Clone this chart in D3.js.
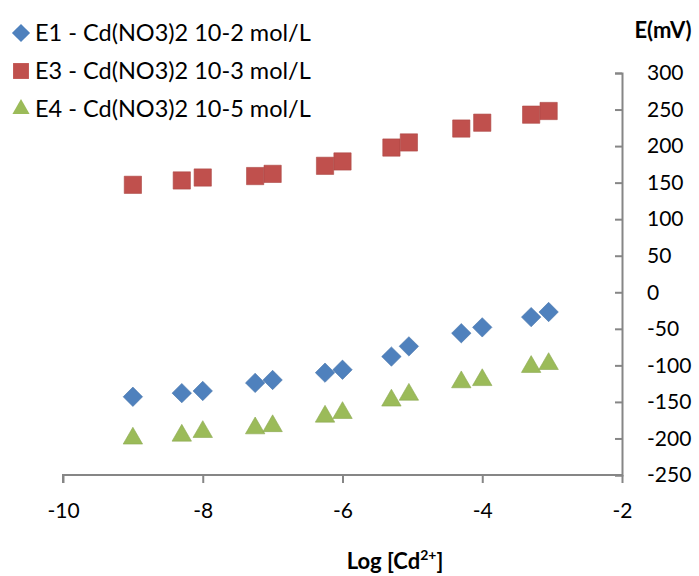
<!DOCTYPE html>
<html>
<head>
<meta charset="utf-8">
<script src="https://cdn.jsdelivr.net/npm/d3@7"></script>
<style>
	body { margin: 0; background: #fff; }
	text { font-family: Lato, "Open Sans", sans-serif; fill: #000; }
</style>
</head>
<body>
<svg id="chart" width="699" height="576"></svg>
<script>
// log [Cd2+] for each measurement
const logConc = [-9, -8.3, -8, -7.25, -7, -6.25, -6, -5.3, -5.05, -4.3, -4, -3.3, -3.05]

// potentials, mV
const e1 = [-143, -138, -135, -124, -120, -110, -106, -88, -74, -56, -48, -34, -27]
const e3 = [147, 153, 157, 159, 162, 173, 179, 198, 205, 224, 232, 243, 248]
const e4 = [-200, -196, -191, -186, -183, -170, -165, -148, -140, -123, -120, -102, -98]

const seriesNames = [
	"E1 - Cd(NO3)2 10-2 mol/L",
	"E3 - Cd(NO3)2 10-3 mol/L",
	"E4 - Cd(NO3)2 10-5 mol/L",
]
const xTicks = [-10, -8, -6, -4, -2]
const yTicks = [300, 250, 200, 150, 100, 50, 0, -50, -100, -150, -200, -250]

const series = [
	{ name: seriesNames[0], values: e1, colour: "#4F81BD", symbol: d3.symbolDiamond2 },
	{ name: seriesNames[1], values: e3, colour: "#C0504D", symbol: d3.symbolSquare2 },
	{ name: seriesNames[2], values: e4, colour: "#9BBB59", symbol: d3.symbolTriangle2 },
]

const svg = d3.select("#chart")

const x = d3.scaleLinear().domain([-10, -2]).range([63, 622])
const y = d3.scaleLinear().domain([-250, 300]).range([475, 73])

const axisColour = "#868686"
const plain = d => String(d)   // hyphen-minus, as in the original

// x axis along the bottom (at -250)
const xAxis = svg.append("g")
	.attr("transform", `translate(0, ${y(-250)})`)
	.call(d3.axisBottom(x).tickValues(xTicks).tickSize(8).tickPadding(20).tickFormat(plain))
xAxis.select(".domain").attr("d", `M${x(-10)},8V0H${x(-2)}V0`)

// y axis on the right (at -2), ticks pointing left, labels right
const yAxis = svg.append("g")
	.attr("transform", `translate(${x(-2)}, 0)`)
	.call(d3.axisLeft(y).tickValues(yTicks).tickSize(7).tickFormat(plain))
yAxis.selectAll(".tick text")
	.attr("x", 25)
	.attr("text-anchor", "start")

svg.selectAll(".domain, .tick line")
	.attr("stroke", axisColour)
	.attr("stroke-width", 2)
svg.selectAll(".tick text")
	.attr("font-family", "Lato, 'Open Sans', sans-serif")
	.attr("font-size", 21)
	.attr("fill", "#000")

// axis titles
svg.append("text")
	.attr("x", 663)
	.attr("y", 38)
	.attr("text-anchor", "middle")
	.attr("font-weight", "bold")
	.attr("font-size", 22)
	.text("E(mV)")

let xTitle = svg.append("text")
	.attr("x", 395)
	.attr("y", 569)
	.attr("text-anchor", "middle")
	.attr("font-weight", "bold")
	.attr("font-size", 22)
xTitle.append("tspan").text("Log [Cd")
xTitle.append("tspan").attr("font-size", 14).attr("dy", -9).text("2+")
xTitle.append("tspan").attr("dy", 9).text("]")

// markers
const symbolSize = { 0: 240, 1: 380, 2: 270 }
series.forEach((s, i) => {
	svg.append("g")
		.selectAll("path")
		.data(s.values.map((v, j) => ({ x: logConc[j], y: v })))
		.join("path")
		.attr("transform", d => `translate(${x(d.x)}, ${y(d.y)})`)
		.attr("d", d3.symbol().type(s.symbol).size(symbolSize[i]))
		.attr("fill", s.colour)
		.attr("stroke", d3.color(s.colour).darker(0.3))
		.attr("stroke-width", 0.6)
})

// legend
const legend = svg.append("g")
	.selectAll("g")
	.data(series)
	.join("g")
	.attr("transform", (d, i) => `translate(21, ${33 + i * 38})`)
legend.append("path")
	.attr("d", (d, i) => d3.symbol().type(d.symbol).size(i === 1 ? 320 : 210)())
	.attr("fill", d => d.colour)
legend.append("text")
	.attr("x", 14)
	.attr("dy", "0.36em")
	.attr("font-size", 23.5)
	.text(d => d.name)
</script>
</body>
</html>
